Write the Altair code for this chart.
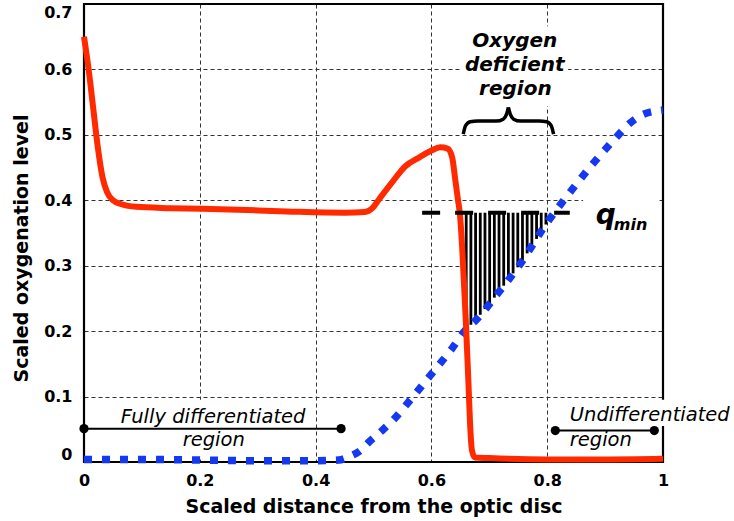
import altair as alt
import numpy as np
import pandas as pd

# Scaled oxygenation level along the retina (solid red curve)
o2_dist = [0.000, 0.008, 0.016, 0.024, 0.032, 0.040, 0.050, 0.065, 0.090, 0.150,
           0.250, 0.350, 0.450, 0.485, 0.498, 0.510, 0.530, 0.555, 0.580, 0.600,
           0.615, 0.628, 0.636, 0.641, 0.646, 0.649, 0.653, 0.657, 0.660, 0.664,
           0.667, 0.670, 0.675, 0.700, 0.800, 0.900, 1.000]
o2_level = [0.650, 0.600, 0.540, 0.480, 0.435, 0.412, 0.400, 0.394, 0.390, 0.388,
            0.386, 0.383, 0.381, 0.382, 0.388, 0.402, 0.425, 0.452, 0.466, 0.476,
            0.481, 0.479, 0.465, 0.433, 0.400, 0.381, 0.330, 0.260, 0.205, 0.120,
            0.055, 0.018, 0.007, 0.006, 0.004, 0.004, 0.005]

# Differentiation front (dotted blue curve)
front_dist = [0.000, 0.100, 0.200, 0.300, 0.400, 0.440, 0.460, 0.475, 0.494, 0.516,
              0.537, 0.558, 0.596, 0.636, 0.660, 0.677, 0.715, 0.753, 0.800, 0.840,
              0.879, 0.920, 0.943, 0.965, 0.985, 1.000]
front_level = [0.004, 0.004, 0.003, 0.002, 0.002, 0.003, 0.009, 0.016, 0.032, 0.049,
               0.067, 0.089, 0.130, 0.174, 0.203, 0.217, 0.258, 0.302, 0.366, 0.413,
               0.456, 0.497, 0.518, 0.531, 0.536, 0.538]

# Minimum oxygen threshold
q_min = 0.381

x_ticks = [0, 0.2, 0.4, 0.6, 0.8, 1]
y_ticks = [0, 0.1, 0.2, 0.3, 0.4, 0.5, 0.6, 0.7]

FONT = "DejaVu Sans"
RED = "#ff2a00"
BLUE = "#1439f0"

x_scale = alt.Scale(domain=[0, 1], nice=False, zero=False)
y_scale = alt.Scale(domain=[0, 0.7], nice=False, zero=False)

X = alt.X("x:Q", scale=x_scale,
          axis=alt.Axis(values=x_ticks, format="~g", labelFlush=False,
                        title="Scaled distance from the optic disc",
                        labelPadding=10, titleX=289.5, titleY=44,
                        titleAlign="center", titleBaseline="middle"))
Y = alt.Y("y:Q", scale=y_scale,
          axis=alt.Axis(values=y_ticks, format="~g", labelFlush=True,
                        title="Scaled oxygenation level",
                        labelPadding=12, titleX=-63, titleY=244, titleAngle=270,
                        titleAlign="center", titleBaseline="middle"))

o2_df = pd.DataFrame({"x": o2_dist, "y": o2_level})
front_df = pd.DataFrame({"x": front_dist, "y": front_level})

# Oxygen-deficient zone: below q_min and above both curves, filled with vertical hatching
def upper_curve(xs):
    return np.maximum(np.interp(xs, o2_dist, o2_level),
                      np.interp(xs, front_dist, front_level))

fill_x = np.linspace(0.648, 0.805, 80)
fill_low = np.minimum(upper_curve(fill_x), q_min)
hatch_fill = pd.DataFrame({"x": fill_x, "y": fill_low, "y2": q_min})

stripe_x = np.arange(0.652, 0.800, 0.0081)
stripe_low = upper_curve(stripe_x)
keep = stripe_low < q_min - 0.003
hatch_lines = pd.DataFrame({"x": stripe_x[keep], "y": stripe_low[keep], "y2": q_min})

# Plot frame
frame = alt.Chart(pd.DataFrame({"x": [0], "x2": [1], "y": [0], "y2": [0.7]})).mark_rect(
    fillOpacity=0, stroke="black", strokeWidth=2.2
).encode(x=X, x2="x2:Q", y=Y, y2="y2:Q")

# White backgrounds behind the annotation texts
label_bg = alt.Chart(pd.DataFrame({
    "x": [0.653, 0.862, 0.055, 0.840],
    "x2": [0.836, 0.994, 0.385, 1.020],
    "y": [0.544, 0.350, 0.008, 0.055],
    "y2": [0.666, 0.420, 0.095, 0.095],
})).mark_rect(color="white").encode(x=X, x2="x2:Q", y=Y, y2="y2:Q")

hatch_bg = alt.Chart(hatch_fill).mark_area(color="white").encode(x=X, y=Y, y2="y2:Q")
hatch = alt.Chart(hatch_lines).mark_rule(color="black", strokeWidth=2.8).encode(
    x=X, y=Y, y2="y2:Q")

front_line = alt.Chart(front_df).mark_line(
    color=BLUE, strokeWidth=7.5, strokeDash=[8, 10], strokeCap="butt",
    interpolate="monotone"
).encode(x=X, y=Y)

o2_line = alt.Chart(o2_df).mark_line(
    color=RED, strokeWidth=6, interpolate="monotone", strokeJoin="round"
).encode(x=X, y=Y)

qmin_line = alt.Chart(pd.DataFrame({"x": [0.584], "x2": [0.839], "y": [q_min]})).mark_rule(
    color="black", strokeWidth=4, strokeDash=[18, 15], strokeCap="butt"
).encode(x=X, x2="x2:Q", y=Y)

# Region brackets with end dots
spans = pd.DataFrame({"x": [0.0, 0.814], "x2": [0.444, 0.985], "y": [0.051, 0.048]})
span_lines = alt.Chart(spans).mark_rule(color="black", strokeWidth=2).encode(
    x=X, x2="x2:Q", y=Y)
span_dots = alt.Chart(pd.DataFrame({
    "x": [0.0, 0.444, 0.814, 0.985], "y": [0.051, 0.051, 0.048, 0.048]
})).mark_point(filled=True, shape="circle", size=85, color="black", opacity=1).encode(x=X, y=Y)

# Curly brace over the oxygen-deficient region
brace = alt.Chart(pd.DataFrame({
    "x": [0.655, 0.659, 0.667, 0.680, 0.712, 0.724, 0.730, 0.733,
          0.733, 0.736, 0.742, 0.754, 0.786, 0.799, 0.807, 0.811],
    "y": [0.501, 0.514, 0.520, 0.521, 0.521, 0.524, 0.532, 0.542,
          0.542, 0.532, 0.524, 0.521, 0.521, 0.520, 0.514, 0.501],
    "part": ["l"] * 8 + ["r"] * 8,
})).mark_line(color="black", strokeWidth=3.5, interpolate="monotone").encode(
    x=X, y=Y, detail="part:N")

deficient_text = alt.Chart(pd.DataFrame({
    "x": [0.744, 0.744, 0.745], "y": [0.635, 0.598, 0.561],
    "t": ["Oxygen", "deficient", "region"],
})).mark_text(font=FONT, fontSize=20, fontWeight="bold", fontStyle="italic",
              align="center", baseline="alphabetic", color="black").encode(
    x=X, y=Y, text="t:N")

fully_text = alt.Chart(pd.DataFrame({
    "x": [0.223, 0.224], "y": [0.060, 0.025], "t": ["Fully differentiated", "region"],
})).mark_text(font=FONT, fontSize=19.5, fontStyle="italic", align="center",
              baseline="alphabetic", color="black").encode(x=X, y=Y, text="t:N")

undiff_text = alt.Chart(pd.DataFrame({
    "x": [0.839, 0.839], "y": [0.062, 0.025], "t": ["Undifferentiated", "region"],
})).mark_text(font=FONT, fontSize=19.5, fontStyle="italic", align="left",
              baseline="alphabetic", color="black").encode(x=X, y=Y, text="t:N")

q_text = alt.Chart(pd.DataFrame({"x": [0.884], "y": [0.363], "t": ["q"]})).mark_text(
    font=FONT, fontSize=28, fontWeight="bold", fontStyle="italic", align="left",
    baseline="alphabetic", color="black").encode(x=X, y=Y, text="t:N")
min_text = alt.Chart(pd.DataFrame({"x": [0.915], "y": [0.355], "t": ["min"]})).mark_text(
    font=FONT, fontSize=16, fontWeight="bold", fontStyle="italic", align="left",
    baseline="alphabetic", color="black").encode(x=X, y=Y, text="t:N")

chart = alt.layer(
    frame, label_bg, hatch_bg, hatch, front_line, o2_line, qmin_line,
    span_lines, span_dots, brace, deficient_text, fully_text, undiff_text,
    q_text, min_text,
).properties(
    width=579, height=458,
    padding={"left": 84, "top": 4, "right": 71, "bottom": 59},
    autosize="none", background="white",
).configure_view(stroke=None).configure_axis(
    labelFont=FONT, labelFontSize=16, labelFontWeight="bold", labelColor="black",
    titleFont=FONT, titleFontSize=19, titleFontWeight="bold", titleColor="black",
    grid=True, gridDash=[4, 3], gridColor="#333333", gridWidth=1, gridOpacity=1,
    domain=False, ticks=False,
)

chart.save("out.html", embed_options={"renderer": "svg", "actions": False})
